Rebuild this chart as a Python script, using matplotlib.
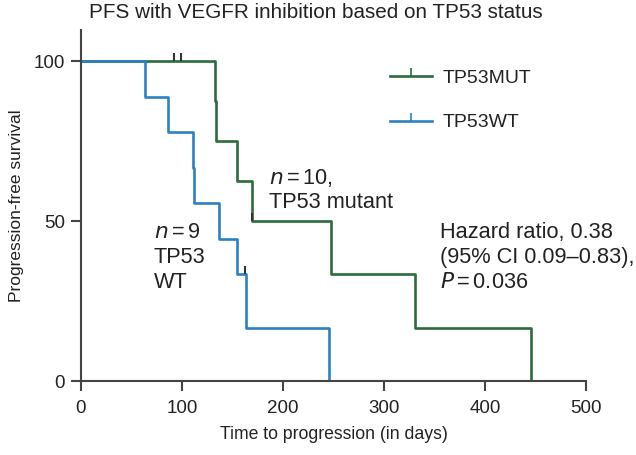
import matplotlib
matplotlib.use("Agg")
import matplotlib.pyplot as plt
from matplotlib.lines import Line2D

plt.rcParams['font.family'] = ['Liberation Sans', 'DejaVu Sans']

# Data
mut_times = [0, 133, 134, 154, 169, 248, 331, 446]
mut_surv = [100, 87.5, 75, 62.5, 50, 33.3, 16.7, 0]
mut_cens_t = [92, 99, 169]
mut_cens_s = [100, 100, 50]

wt_times = [0, 63, 86, 111, 112, 137, 154, 163, 246]
wt_surv = [100, 88.9, 77.8, 66.7, 55.6, 44.4, 33.3, 16.7, 0]
wt_cens_t = [162]
wt_cens_s = [33.3]

x_ticks = [0, 100, 200, 300, 400, 500]
y_ticks = [0, 50, 100]

GREEN = '#2b6b3c'
BLUE = '#2c80c3'
SPINE = '#444444'
TC = '#222222'

fig = plt.figure(figsize=(6.36, 4.55), dpi=100)
ax = fig.add_axes([81/636, 1-381/455, 505/636, 351/455])

ax.plot(mut_times, mut_surv, drawstyle='steps-post', color=GREEN, lw=1.9)
ax.plot(wt_times, wt_surv, drawstyle='steps-post', color=BLUE, lw=1.9)
ax.plot(mut_cens_t, mut_cens_s, linestyle='none', marker=2, ms=5.5, mew=1.5, color='#333333')
ax.plot(wt_cens_t, wt_cens_s, linestyle='none', marker=2, ms=5.5, mew=1.5, color='#333333')

ax.set_xlim(0, 500)
ax.set_ylim(0, 109.7)
ax.set_xticks(x_ticks)
ax.set_yticks(y_ticks)
for s in ['top', 'right']:
    ax.spines[s].set_visible(False)
for s in ['left', 'bottom']:
    ax.spines[s].set_color(SPINE)
    ax.spines[s].set_linewidth(1.5)
ax.tick_params(direction='out', length=7.5, width=1.5, color=SPINE, labelsize=13.5, labelcolor=TC)
ax.tick_params(axis='x', pad=6.5)
ax.tick_params(axis='y', pad=4)

ax.set_xlabel('Time to progression (in days)', fontsize=12.7, color=TC, labelpad=6)
ax.set_ylabel('Progression-free survival', fontsize=12.5, color=TC, labelpad=7)
fig.text(315.5/636, 1-12/455, 'PFS with VEGFR inhibition based on TP53 status', ha='center', va='center',
         fontsize=14.9, color=TC)

handles = [Line2D([0], [0], color=GREEN, lw=1.9, marker=2, ms=5.5, mew=1.2),
           Line2D([0], [0], color=BLUE, lw=1.9, marker=2, ms=5.5, mew=1.2)]
fig.legend(handles, ['TP53MUT', 'TP53WT'], loc='upper left',
           bbox_to_anchor=(390/636, 1-69/455), bbox_transform=fig.transFigure,
           frameon=False, fontsize=14, numpoints=1, handlelength=2.15, handletextpad=0.57,
           labelspacing=1.4, borderpad=0, borderaxespad=0, labelcolor=TC)

ax.text(186, 59.7, '$n$$\\,$=$\\,$10,\nTP53 mutant', fontsize=15.7, color=TC, va='center',
        linespacing=1.15)
ax.text(72, 38.75, '$n$$\\,$=$\\,$9\nTP53\nWT', fontsize=15.7, color=TC, va='center', linespacing=1.25)
ax.text(355.7, 38.75, 'Hazard ratio, 0.38\n(95% CI 0.09\u20130.83),\n$P$$\\,$=$\\,$0.036', fontsize=15.7,
        color=TC, va='center', linespacing=1.25)

fig.savefig('out.png', dpi=100)
